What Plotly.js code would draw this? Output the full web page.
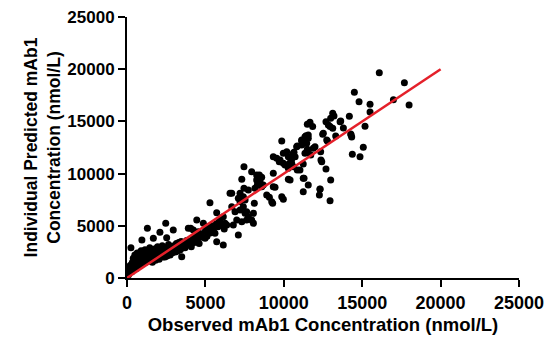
<!DOCTYPE html>
<html>
<head>
<meta charset="utf-8">
<script src="https://cdn.plot.ly/plotly-3.0.1.min.js"></script>
<style>html,body{margin:0;padding:0;background:#fff;}#chart{width:550px;height:341px;}</style>
</head>
<body>
<div id="chart"></div>
<script>
// Observed (x) vs individual predicted (y) mAb1 concentration, nmol/L
var observed = [
 100,150,200,250,300,350,400,450,500,550,600,650,700,750,800,850,900,950,1000,1050,
 1100,1150,1200,1250,1300,1350,1400,1450,1500,1550,1600,1680,1700,1750,1800,1850,1900,1950,2000,2100,
 2050,2150,2200,2250,2300,2350,2400,2470,2530,2500,2550,2600,2650,2700,2750,2800,2850,2950,2900,3000,
 3050,3100,3150,3200,3250,3300,3350,3400,3450,3500,
 180,260,320,420,520,620,720,820,920,1020,1120,1220,1320,1420,1520,1620,1720,1820,1920,2020,
 2120,2220,2320,2420,2620,2720,2820,3020,3120,3220,3320,3420,3490,
 3600,3700,3800,3900,3910,4000,4100,4200,4230,4300,4400,4450,4500,4550,4600,4700,4800,4870,4980,5000,
 5080,5100,5200,5300,5400,5500,5610,5720,5700,5800,5930,5900,6000,6140,6140,6250,6360,6200,5290,5720,
 6570,4060,6680,6890,7210,7420,7530,7740,8060,7950,8060,5930,7000,7320,7100,7210,7420,7530,7100,7210,
 6680,7460,7950,8440,8590,8270,8480,8690,8310,8160,9330,10290,7320,7460,7740,9440,8910,9080,9870,8120,
 9290,9710,9970,10190,10400,10610,10290,11030,8270,8480,8370,8590,9330,9230,9970,7630,6780,7630,
 9870,9330,9550,9760,9970,10190,10290,10610,10500,10080,10820,11140,11460,11350,11560,11140,12520,12740,12950,11240,
 11240,10400,11290,12990,11560,12310,12690,11240,10860,12370,12420,12350,10650,10720,10500,11500,11350,11720,11560,11880,
 11990,10860,11140,11290,12480,11420,11560,13310,14270,11670,11500,11840,12690,12840,12950,13120,13590,13120,13200,12990,
 16090,17690,14500,14800,15500,16990,17990,15500,14180,13630,13800,15180,14290,14330,15070,14860,14370,12780,12310,12270
];
var predicted = [
 300,800,1200,2900,600,1500,1900,1100,2200,1600,900,2400,1300,1800,2100,1500,2600,3640,1700,2300,
 1900,2700,1500,2200,4760,2500,1800,2900,2100,1700,2600,3800,2300,1900,2800,2000,2500,3000,2200,4380,
 1800,2700,2300,3100,2000,2600,2900,5240,3860,2400,2100,2800,3200,2500,2200,3000,2700,4600,2400,3100,
 2800,2500,3300,2900,2600,3400,3000,2700,3500,3100,
 700,1000,1400,900,1300,1700,1100,1600,1300,2000,1500,1800,1600,2300,1800,1500,2000,1700,2300,1900,
 2100,2500,2200,2000,2300,2900,2500,2600,2900,2700,3100,2800,2040,
 3300,2900,3600,3200,4760,3500,3000,3800,4600,3400,4100,5560,3700,4440,3300,4200,3900,5240,3800,4500,
 4910,4000,4700,4300,5000,4600,4280,3480,5200,4900,5080,5500,5200,3160,5870,5240,5080,4700,7210,6260,
 8110,4760,6830,6350,6510,6830,6200,5870,6200,5560,5240,5390,5560,5390,4120,8110,7790,7470,7640,7310,
 8110,10660,10180,9870,9650,9390,9130,8910,8910,8590,10030,9460,9460,8590,8430,8690,7950,7730,7790,7160,
 7160,11140,10990,10830,11050,10660,10510,10350,9870,9390,9070,8750,8750,7310,7540,6350,5080,5560,
 13120,11620,11470,11300,11950,12100,11620,11950,10990,10830,12580,12740,12900,13540,13700,13220,13860,13220,7410,8270,
 9550,9390,9550,9390,8910,8530,10440,10920,10350,11300,11140,12100,12040,11620,11370,12330,11950,11780,12000,12430,
 12580,12650,13120,12900,13770,13630,13380,13600,13800,14920,14720,14500,14970,14660,14500,14340,14970,15780,15520,15300,
 19670,18710,17790,16890,16640,17080,16570,15900,15490,15040,14370,14530,13700,13510,12520,11620,11850,13120,8500,7950
];
var identityX = [0, 20000];
var identityY = [0, 20000];
var tickVals = [0, 5000, 10000, 15000, 20000, 25000];
var tickText = ['0', '5000', '10000', '15000', '20000', '25000'];

var font = 'Liberation Sans, Arial, sans-serif';
var traces = [
  {x: observed, y: predicted, type: 'scatter', mode: 'markers',
   marker: {color: '#000000', size: 7}, cliponaxis: false, hoverinfo: 'x+y'},
  {x: identityX, y: identityY, type: 'scatter', mode: 'lines',
   line: {color: '#e4202a', width: 2.5}, cliponaxis: false}
];
var axisCommon = {
  range: [0, 25000], tickvals: tickVals, ticktext: tickText,
  showgrid: false, zeroline: false, showline: true, linecolor: '#000', linewidth: 2,
  ticks: 'outside', ticklen: 7, tickwidth: 2, tickcolor: '#000'
};
var layout = {
  width: 550, height: 341,
  margin: {l: 127, r: 31, t: 17, b: 63},
  paper_bgcolor: '#fff', plot_bgcolor: '#fff',
  showlegend: false,
  xaxis: Object.assign({}, axisCommon, {
    tickfont: {family: font, size: 18, color: '#000', weight: 'bold'},
    title: {text: 'Observed mAb1 Concentration (nmol/L)', standoff: 6,
            font: {family: font, size: 18.5, color: '#000', weight: 'bold'}}
  }),
  yaxis: Object.assign({}, axisCommon, {
    tickfont: {family: font, size: 17, color: '#000', weight: 'bold'},
    title: {text: 'Individual Predicted mAb1<br>Concentration (nmol/L)', standoff: 2,
            font: {family: font, size: 17.5, color: '#000', weight: 'bold'}}
  })
};
Plotly.newPlot('chart', traces, layout, {displayModeBar: false, staticPlot: true});
</script>
</body>
</html>
